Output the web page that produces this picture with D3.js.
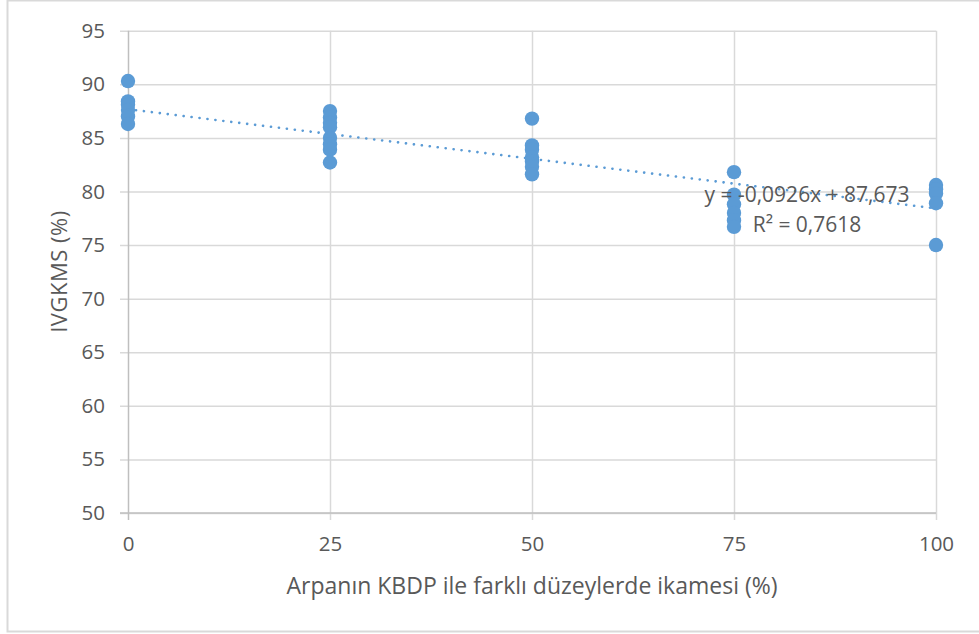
<!DOCTYPE html>
<html>
<head>
<meta charset="utf-8">
<script src="https://cdn.jsdelivr.net/npm/d3@7"></script>
<style>
  body { margin: 0; background: #fff; }
  text { font-family: "Open Sans", sans-serif; fill: #595959; }
</style>
</head>
<body>
<div id="chart"></div>
<script>
// substitution levels (%) and measured IVGKMS values per level
const levels = [0, 25, 50, 75, 100];
const values0 = [90.3, 88.4, 88.1, 87.6, 87.0, 86.3];
const values25 = [87.5, 86.9, 86.4, 86.0, 85.0, 84.4, 83.9, 82.7];
const values50 = [86.8, 84.3, 83.9, 83.2, 82.8, 82.3, 81.6];
const values75 = [81.8, 79.7, 78.8, 78.0, 77.3, 76.7];
const values100 = [80.6, 80.2, 79.8, 78.9, 75.0];
const yTicks = [50, 55, 60, 65, 70, 75, 80, 85, 90, 95];
const trend = {slope: -0.0926, intercept: 87.673};
const trendLabel = "y = -0,0926x + 87,673";
const r2Label = "R² = 0,7618";
const xTitle = "Arpanın KBDP ile farklı düzeylerde ikamesi (%)";
const yTitle = "IVGKMS (%)";

const groups = [values0, values25, values50, values75, values100];
const points = [];
groups.forEach((vals, i) => vals.forEach(v => points.push({x: levels[i], y: v})));

const width = 979, height = 634;
const margin = {top: 30.7, right: 43, bottom: 121, left: 128};

const svg = d3.select('#chart').append('svg')
  .attr('width', width)
  .attr('height', height);

// outer chart border
svg.append('rect')
  .attr('x', 7.5).attr('y', 0.5)
  .attr('width', 990).attr('height', 631)
  .attr('fill', 'none')
  .attr('stroke', '#d9d9d9')
  .attr('stroke-width', 2);

const xScale = d3.scaleLinear()
  .domain([0, 100])
  .range([margin.left, width - margin.right]);
const yScale = d3.scaleLinear()
  .domain([50, 95])
  .range([height - margin.bottom, margin.top]);

// horizontal gridlines with the small tick stub on the left
const yAxis = d3.axisLeft(yScale)
  .tickValues(yTicks)
  .tickSize(-(xScale(100) - xScale(0)) - 8)
  .tickPadding(15)
  .tickFormat(d3.format('d'));
const gy = svg.append('g')
  .attr('transform', `translate(${xScale(0) - 8},0)`)
  .call(yAxis);
gy.select('.domain').remove();
gy.selectAll('.tick line')
  .attr('x1', 0)
  .attr('x2', xScale(100) - xScale(0) + 8)
  .attr('stroke', '#d9d9d9')
  .attr('stroke-width', 1.5);
gy.selectAll('.tick text')
  .attr('x', -15)
  .style('font-size', '20.5px')
  .attr('fill', '#595959');

// vertical gridlines
const xAxis = d3.axisBottom(xScale)
  .tickValues(levels)
  .tickSize(-(yScale(50) - yScale(95)) - 7)
  .tickPadding(14)
  .tickFormat(d3.format('d'));
const gx = svg.append('g')
  .attr('transform', `translate(0,${yScale(50) + 7})`)
  .call(xAxis);
gx.select('.domain').remove();
gx.selectAll('.tick line')
  .attr('stroke', (d) => d === 0 ? '#bfbfbf' : '#d9d9d9')
  .attr('stroke-width', 1.5);
gx.selectAll('.tick text')
  .attr('y', 16)
  .style('font-size', '20.5px')
  .attr('fill', '#595959');

// x axis line
svg.append('line')
  .attr('x1', xScale(0) - 8).attr('x2', xScale(100))
  .attr('y1', yScale(50)).attr('y2', yScale(50))
  .attr('stroke', '#bfbfbf')
  .attr('stroke-width', 1.5);

// points
svg.append('g')
  .selectAll('circle')
  .data(points)
  .enter()
  .append('circle')
  .attr('cx', d => xScale(d.x))
  .attr('cy', d => yScale(d.y))
  .attr('r', 7.2)
  .attr('fill', '#5b9bd5');

// linear trendline (dotted)
svg.append('line')
  .attr('x1', xScale(0)).attr('y1', yScale(trend.intercept))
  .attr('x2', xScale(100)).attr('y2', yScale(trend.intercept + trend.slope * 100))
  .attr('stroke', '#5b9bd5')
  .attr('stroke-width', 2.6)
  .attr('stroke-linecap', 'round')
  .attr('stroke-dasharray', '0.1,7.9');

// trendline equation
svg.append('text')
  .attr('x', 807).attr('y', 202)
  .attr('text-anchor', 'middle')
  .style('font-size', '21px')
  .text(trendLabel);
svg.append('text')
  .attr('x', 807).attr('y', 232)
  .attr('text-anchor', 'middle')
  .style('font-size', '21px')
  .text(r2Label);

// axis titles
svg.append('text')
  .attr('x', (xScale(0) + xScale(100)) / 2)
  .attr('y', 594)
  .attr('text-anchor', 'middle')
  .style('font-size', '23px')
  .text(xTitle);
svg.append('text')
  .attr('transform', `translate(67,${(yScale(50) + yScale(95)) / 2}) rotate(-90)`)
  .attr('text-anchor', 'middle')
  .attr('textLength', 122)
  .attr('lengthAdjust', 'spacing')
  .style('font-size', '22px')
  .text(yTitle);
</script>
</body>
</html>
